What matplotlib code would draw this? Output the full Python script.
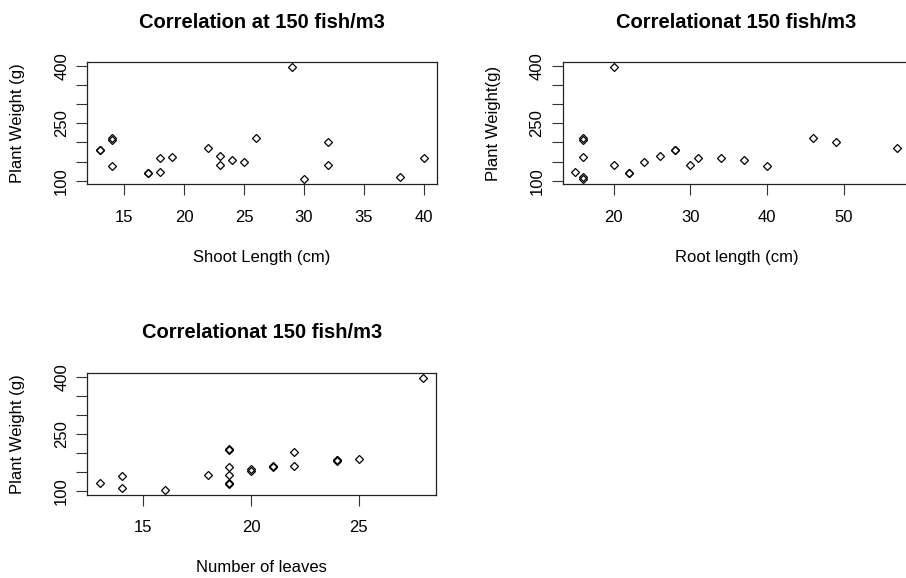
import numpy as np
import matplotlib.pyplot as plt

plt.rcParams['font.family'] = ['Liberation Sans', 'DejaVu Sans']

# Длина побега (см) и масса растения (г)
shoot_len = [13, 13, 14, 14, 14, 17, 17, 18, 18, 19, 22, 23, 23, 24, 25, 26, 29, 30, 32, 32, 38, 40]
weight_shoot = [180, 181, 211, 206, 138, 119, 120, 158, 122, 162, 185, 165, 142, 155, 149, 212, 399, 103, 202, 142, 109, 159]

# Длина корня (см) и масса растения (г)
root_len = [15, 16, 16, 16, 16, 16, 20, 20, 22, 22, 24, 26, 28, 28, 30, 31, 34, 37, 40, 46, 49, 57]
weight_root = [122, 211, 206, 162, 109, 103, 399, 142, 119, 120, 149, 165, 180, 181, 142, 159, 159, 155, 138, 212, 202, 185]

# Число листьев и масса растения (г)
leaves = [13, 14, 14, 16, 18, 19, 19, 19, 19, 19, 19, 20, 20, 21, 21, 22, 22, 24, 24, 24, 25, 28]
weight_leaves = [122, 140, 109, 103, 142, 211, 207, 163, 142, 120, 121, 158, 153, 166, 163, 202, 166, 180, 181, 182, 185, 398]

y_ticks = [100, 150, 200, 250, 300, 350, 400]
y_labels = ['100', '', '', '250', '', '', '400']

panels = [
    (shoot_len, weight_shoot, [15, 20, 25, 30, 35, 40], 'Correlation at 150 fish/m3',
     'Shoot Length (cm)', 'Plant Weight (g)', [87.3, 62, 349.4, 122]),
    (root_len, weight_root, [20, 30, 40, 50], 'Correlationat 150 fish/m3',
     'Root length (cm)', 'Plant Weight(g)', [562.6, 62, 347.6, 122]),
    (leaves, weight_leaves, [15, 20, 25], 'Correlationat 150 fish/m3',
     'Number of leaves', 'Plant Weight (g)', [87.3, 373, 349.0, 121.5]),
]

W, H = 906, 578
fig = plt.figure(figsize=(W / 100, H / 100), dpi=100)


def r_range(v):
    # как в R: 4% запаса с каждой стороны
    lo, hi = min(v), max(v)
    d = (hi - lo) * 0.04
    return lo - d, hi + d


for x, y, xt, title, xlab, ylab, box in panels:
    left, top, w, h = box
    ax = fig.add_axes([left / W, 1 - (top + h) / H, w / W, h / H])
    ax.plot(x, y, linestyle='none', marker='D', markersize=3.9,
            markerfacecolor='none', markeredgecolor='black', markeredgewidth=0.9)
    ax.set_xlim(*r_range(x))
    ax.set_ylim(*r_range(y))
    ax.set_xticks(xt)
    ax.set_xticklabels([str(t) for t in xt], fontsize=12)
    ax.set_yticks(y_ticks)
    ax.set_yticklabels(y_labels, fontsize=12, rotation=90, va='center')
    ax.tick_params(direction='out', length=8, width=0.8, color='#333333')
    ax.tick_params(axis='x', pad=10.5)
    ax.tick_params(axis='y', pad=5)
    for s in ax.spines.values():
        s.set_linewidth(0.9)
        s.set_color('#222222')

    ax.annotate(title, xy=(0.5, 1), xycoords='axes fraction', xytext=(0, 40),
                textcoords='offset pixels', ha='center', va='center',
                fontsize=14.5, fontweight='bold')
    ax.annotate(xlab, xy=(0.5, 0), xycoords='axes fraction', xytext=(0, -73.5),
                textcoords='offset pixels', ha='center', va='center', fontsize=12)
    ax.annotate(ylab, xy=(0, 0.5), xycoords='axes fraction', xytext=(18 - 87.3, 0),
                textcoords='offset pixels', ha='center', va='center',
                rotation=90, fontsize=12)

fig.savefig('out.png', dpi=100)
